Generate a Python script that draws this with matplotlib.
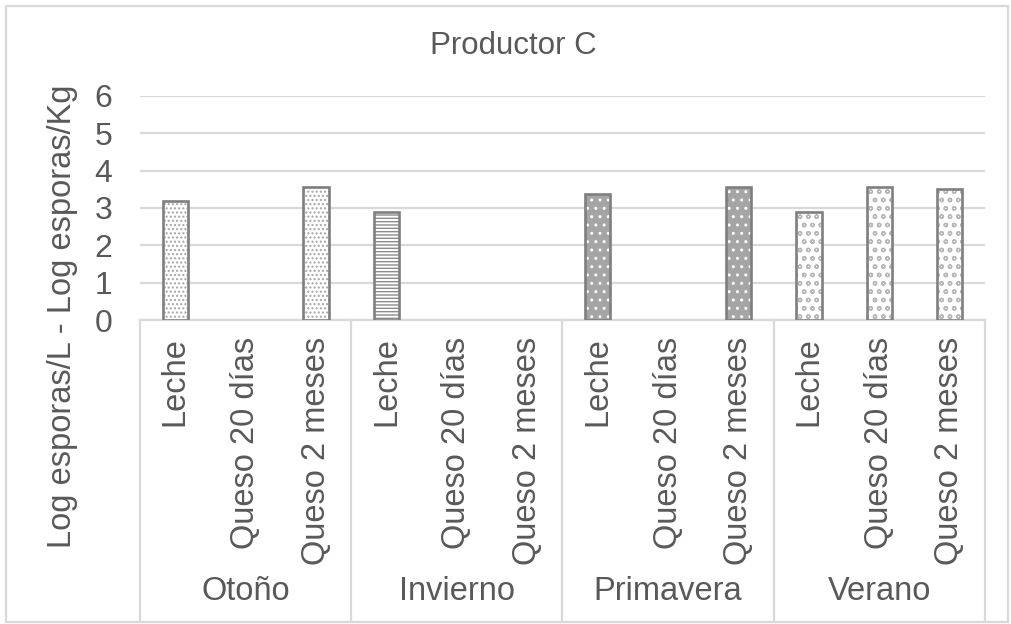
import numpy as np
import matplotlib
matplotlib.use("Agg")
import matplotlib.pyplot as plt
from matplotlib.patches import Rectangle

plt.rcParams["font.family"] = ["Liberation Sans", "DejaVu Sans"]
plt.rcParams["hatch.linewidth"] = 1.0

# Data
seasons = ["Otoño", "Invierno", "Primavera", "Verano"]
samples = ["Leche", "Queso 20 días", "Queso 2 meses"]
otono = [3.18, np.nan, 3.57]
invierno = [2.88, np.nan, np.nan]
primavera = [3.37, np.nan, 3.57]
verano = [2.88, 3.57, 3.50]
y_ticks = [0, 1, 2, 3, 4, 5, 6]

series = [otono, invierno, primavera, verano]

# Fill / hatch style per season
styles = [
    dict(face="white", hatch_col="#a6a6a6", hatch="...."),
    dict(face="white", hatch_col="#8c8c8c", hatch="-----"),
    dict(face="#a5a5a5", hatch_col="white", hatch=".."),
    dict(face="white", hatch_col="#b8b8b8", hatch="oo"),
]

text_col = "#595959"
grid_col = "#d9d9d9"
edge_col = "#7f7f7f"
fs = 23.5

W, H = 1012, 624
fig = plt.figure(figsize=(W / 100, H / 100), dpi=100)
ax = fig.add_axes([140 / W, 1 - 320 / H, 845 / W, 224 / H])

n_s = len(samples)
bar_w = 0.36
for g, (vals, st) in enumerate(zip(series, styles)):
    for i, v in enumerate(vals):
        if np.isnan(v):
            continue
        x = g * n_s + i
        ax.bar(x, v, width=bar_w, color=st["face"], edgecolor=st["hatch_col"],
               hatch=st["hatch"], linewidth=0, zorder=3)
        ax.bar(x, v, width=bar_w, fill=False, edgecolor=edge_col,
               linewidth=1.9, zorder=4)

n_cat = len(seasons) * n_s
ax.set_xlim(-0.5, n_cat - 0.5)
ax.set_ylim(0, 6)
ax.set_yticks(y_ticks)
ax.set_yticklabels([str(t) for t in y_ticks], fontsize=23, color=text_col)
ax.tick_params(axis="y", length=0, pad=20)
ax.set_xticks([])
ax.yaxis.grid(True, color=grid_col, linewidth=1.6, zorder=0)
ax.set_axisbelow(True)
for s in ["top", "right", "left"]:
    ax.spines[s].set_visible(False)
ax.spines["bottom"].set_color(grid_col)
ax.spines["bottom"].set_linewidth(1.6)

tr = ax.get_xaxis_transform()
ah = 224.0
# Category labels
for g in range(len(seasons)):
    for i, lab in enumerate(samples):
        ax.text(g * n_s + i, -(337 - 320) / ah, lab, transform=tr, rotation=90,
                ha="center", va="top", fontsize=fs, color=text_col)
    ax.text(g * n_s + (n_s - 1) / 2, -(600 - 320) / ah, seasons[g], transform=tr,
            ha="center", va="baseline", fontsize=fs, color=text_col)

# Group separators
for b in np.arange(len(seasons) + 1) * n_s - 0.5:
    ax.plot([b, b], [0, -(620 - 320) / ah], transform=tr, color=grid_col,
            linewidth=1.6, clip_on=False, zorder=1)

fig.text(513 / W, 1 - 54 / H, "Productor C", ha="center", va="baseline",
         fontsize=22.5, color=text_col)
fig.text(63 / W, 1 - 316 / H, "Log esporas/L - Log esporas/Kg", rotation=90,
         ha="center", va="center", fontsize=fs, color=text_col)

# Chart border
fig.patches.append(Rectangle((6 / W, 2 / H), 1002 / W, 616 / H,
                             transform=fig.transFigure, fill=False,
                             edgecolor=grid_col, linewidth=1.6))

fig.savefig("out.png", dpi=100, facecolor="white")
